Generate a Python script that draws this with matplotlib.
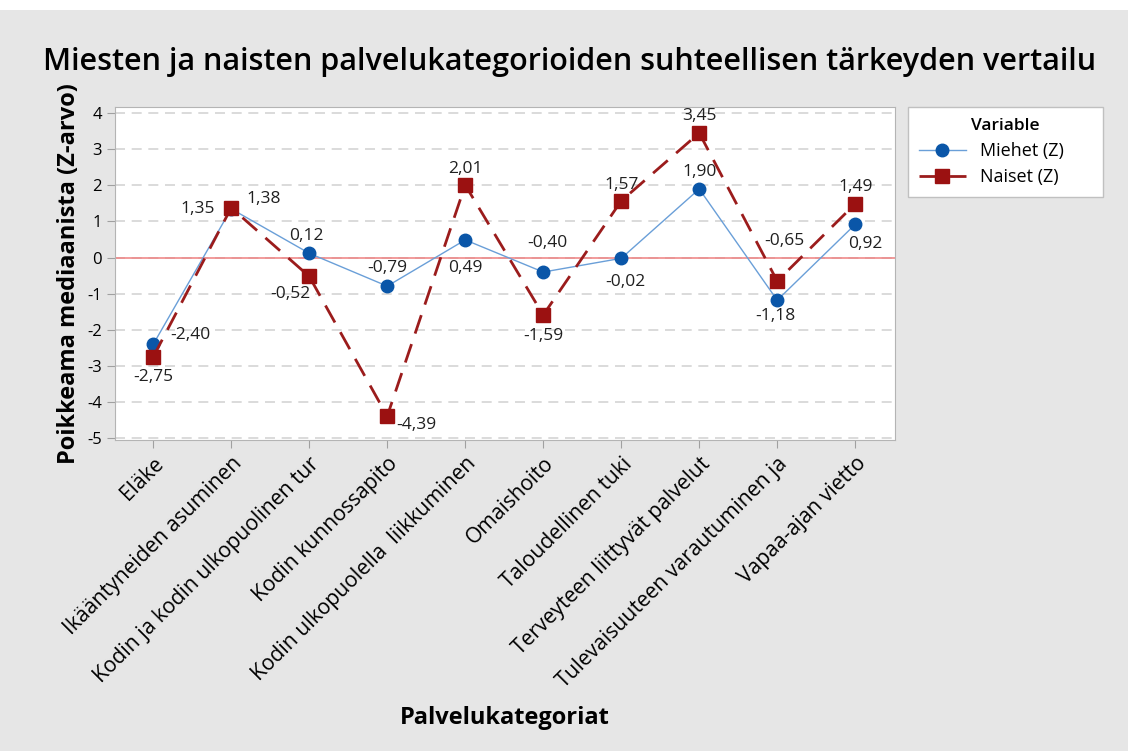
import numpy as np
import matplotlib.pyplot as plt
from matplotlib.patches import Rectangle

plt.rcParams['font.family'] = ['Open Sans', 'DejaVu Sans']

kategoriat = ['Eläke', 'Ikääntyneiden asuminen', 'Kodin ja kodin ulkopuolinen tur',
              'Kodin kunnossapito', 'Kodin ulkopuolella  liikkuminen', 'Omaishoito',
              'Taloudellinen tuki', 'Terveyteen liittyvät palvelut',
              'Tulevaisuuteen varautuminen ja', 'Vapaa-ajan vietto']
miehet = [-2.40, 1.35, 0.12, -0.79, 0.49, -0.40, -0.02, 1.90, -1.18, 0.92]
naiset = [-2.75, 1.38, -0.52, -4.39, 2.01, -1.59, 1.57, 3.45, -0.65, 1.49]

# label offsets in pixels (dx, dy, ha)
off_m = [(17, 9, 'left'), (-16, 0, 'right'), (-3, 17, 'center'), (0, 18, 'center'),
         (0, -28, 'center'), (4, 29, 'center'), (4, -24, 'center'), (0, 17, 'center'),
         (-2, -16, 'center'), (10, -20, 'center')]
off_n = [(0, -20, 'center'), (15, 9, 'left'), (-19, -18, 'center'), (9, -9, 'left'),
         (0, 16, 'center'), (0, -21, 'center'), (0, 16, 'center'), (0, 17, 'center'),
         (7, 40, 'center'), (0, 17, 'center')]

x = np.arange(len(kategoriat))

fig = plt.figure(figsize=(11.28, 7.51), dpi=100, facecolor='#e6e6e6')
fig.patches.append(Rectangle((0, 1 - 10/751), 1, 10/751, transform=fig.transFigure,
                             facecolor='white', edgecolor='none', zorder=-1))
ax = fig.add_axes([115/1128, 1 - 440/751, 780/1128, 333/751])
ax.set_facecolor('white')

for v in range(-5, 5):
    ax.axhline(v, color='#d4d4d4', linestyle=(0, (6, 4)), linewidth=1.2, zorder=0)
ax.axhline(0, color='#ef8080', linewidth=1.1, zorder=1)

ax.plot(x, miehet, color='#6a9fd8', linewidth=1, marker='o', markersize=9,
        markerfacecolor='#0a56a8', markeredgecolor='#0a56a8', label='Miehet (Z)', zorder=2)
ax.plot(x, naiset, color='#9b1c1c', linewidth=2, linestyle=(0, (7, 4)), marker='s',
        markersize=9.5, markerfacecolor='#9b1111', markeredgecolor='#9b1111',
        label='Naiset (Z)', zorder=3)

for i in range(len(x)):
    dx, dy, ha = off_m[i]
    ax.annotate(f'{miehet[i]:.2f}'.replace('.', ','), (x[i], miehet[i]),
                xytext=(dx, dy), textcoords='offset pixels', ha=ha, va='center',
                fontsize=12.5, color='#202020', zorder=5)
    dx, dy, ha = off_n[i]
    ax.annotate(f'{naiset[i]:.2f}'.replace('.', ','), (x[i], naiset[i]),
                xytext=(dx, dy), textcoords='offset pixels', ha=ha, va='center',
                fontsize=12.5, color='#202020', zorder=5)

ax.set_xlim(-0.49, 9.51)
ax.set_ylim(-5.05, 4.17)
ax.set_yticks(range(-5, 5))
ax.set_yticklabels([str(v) for v in range(-5, 5)], fontsize=12)
ax.set_xticks(x)
ax.set_xticklabels(kategoriat, rotation=45, ha='right', rotation_mode='anchor', fontsize=15.2)
ax.tick_params(axis='both', color='#a0a0a0', length=6)
for s in ax.spines.values():
    s.set_color('#b4b4b4')

ax.set_ylabel('Poikkeama mediaanista (Z-arvo)', fontsize=17, fontweight='bold', labelpad=4)
ax.set_xlabel('Palvelukategoriat', fontsize=17, fontweight='bold', labelpad=10)
fig.text(570/1128, 1 - 62/751, 'Miesten ja naisten palvelukategorioiden suhteellisen tärkeyden vertailu',
         ha='center', va='center', fontsize=22, fontweight='semibold')

leg = ax.legend(loc='upper left', bbox_to_anchor=(908/1128, 1 - 197/751, 195/1128, 90/751),
                bbox_transform=fig.transFigure, mode='expand', title='Variable',
                fontsize=13, title_fontsize=12.5, fancybox=False, framealpha=1,
                edgecolor='#c0c0c0', handlelength=2.6, borderaxespad=0,
                labelspacing=0.45, borderpad=0.6)
leg.get_title().set_fontweight('semibold')

fig.savefig('out.png', dpi=100, facecolor=fig.get_facecolor())
